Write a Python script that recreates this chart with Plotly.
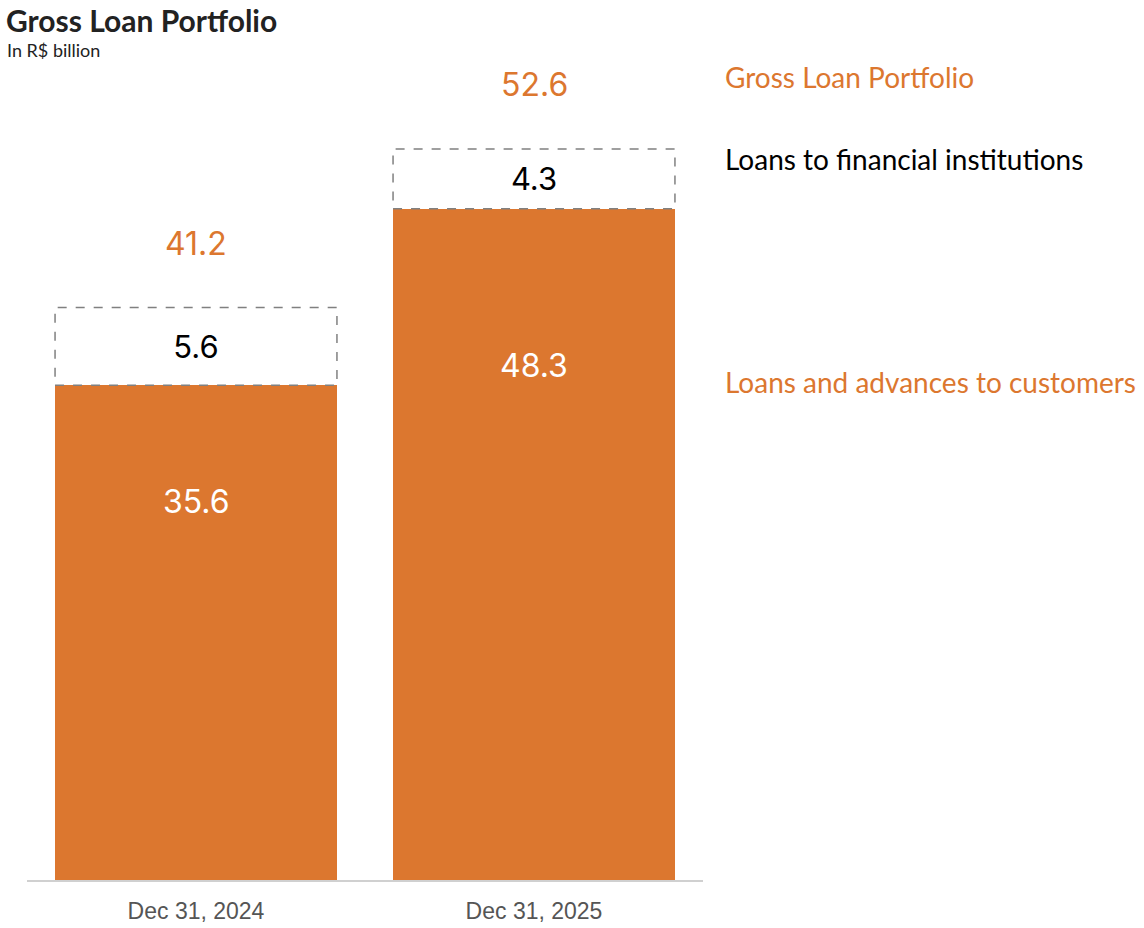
import plotly.graph_objects as go

# data (R$ billion)
dates = ["Dec 31, 2024", "Dec 31, 2025"]
customers = [35.6, 48.3]
financial_inst = [5.6, 4.3]
gross_total = [41.2, 52.6]

ORANGE = "#DC772F"
BAR_GAP = 0.166
half_w = (1 - BAR_GAP) / 2
VALUE_FONT = "Inter, Liberation Sans, Arial"

fig = go.Figure()

fig.add_trace(go.Bar(
    x=dates,
    y=customers,
    name="Loans and advances to customers",
    marker=dict(color=ORANGE, line=dict(width=0)),
    hoverinfo="y",
))

fig.add_trace(go.Bar(
    x=dates,
    y=financial_inst,
    name="Loans to financial institutions",
    marker=dict(color="white", line=dict(width=0)),
    text=[f"{v:.1f}" for v in financial_inst],
    textposition="inside",
    insidetextanchor="middle",
    textfont=dict(family=VALUE_FONT, size=31, color="black"),
    hoverinfo="y",
))

# customers labels sit in the upper part of the orange bar
for d, v in zip(dates, customers):
    fig.add_annotation(
        x=d, y=v * 0.766, xref="x", yref="y",
        text=f"{v:.1f}", showarrow=False, yanchor="middle",
        font=dict(family=VALUE_FONT, size=32, color="white"),
    )

# dashed outline for the financial institutions segment
for i, (base, top) in enumerate(zip(customers, financial_inst)):
    fig.add_shape(
        type="rect", xref="x", yref="y",
        x0=i - half_w, x1=i + half_w, y0=base, y1=base + top,
        line=dict(color="#808080", width=1.5, dash="dash"),
        fillcolor="rgba(0,0,0,0)",
        layer="above",
    )

# totals above the bars
for d, tot in zip(dates, gross_total):
    fig.add_annotation(
        x=d, y=tot, xref="x", yref="y",
        text=f"{tot:.1f}", showarrow=False,
        yanchor="middle", yshift=64,
        font=dict(family=VALUE_FONT, size=32, color=ORANGE),
    )

# right side legend labels
side_labels = [
    ("Gross Loan Portfolio", ORANGE, 0.979),
    ("Loans to financial institutions", "black", 0.879),
    ("Loans and advances to customers", ORANGE, 0.607),
]
for txt, col, yp in side_labels:
    fig.add_annotation(
        x=1.029, y=yp, xref="paper", yref="paper",
        text=txt, showarrow=False, xanchor="left", yanchor="middle",
        font=dict(family="Lato", size=28, color=col),
    )

# title and subtitle
fig.add_annotation(
    x=-0.034, y=1.0488, xref="paper", yref="paper",
    text="Gross Loan Portfolio", showarrow=False,
    xanchor="left", yanchor="middle",
    font=dict(family="Lato", size=30, color="#222222", weight=700),
)
fig.add_annotation(
    x=-0.032, y=1.0128, xref="paper", yref="paper",
    text="In R$ billion", showarrow=False,
    xanchor="left", yanchor="middle",
    font=dict(family="Lato", size=18, color="#222222"),
)

fig.update_layout(
    width=1144,
    height=928,
    barmode="stack",
    bargap=BAR_GAP,
    showlegend=False,
    plot_bgcolor="white",
    paper_bgcolor="white",
    margin=dict(l=27, r=441, t=60, b=48),
    xaxis=dict(
        showline=True, linecolor="#D0D0D0", linewidth=1.5,
        ticks="", showgrid=False, ticklabelstandoff=10, automargin=False,
        tickfont=dict(family="Liberation Sans, Arial", size=23, color="#555555"),
    ),
    yaxis=dict(
        range=[0, 59], visible=False, showgrid=False, zeroline=False,
        automargin=False,
    ),
)

fig.write_html(
    "out.html",
    config={"displayModeBar": False},
    post_script="document.body.style.margin='0';",
)
